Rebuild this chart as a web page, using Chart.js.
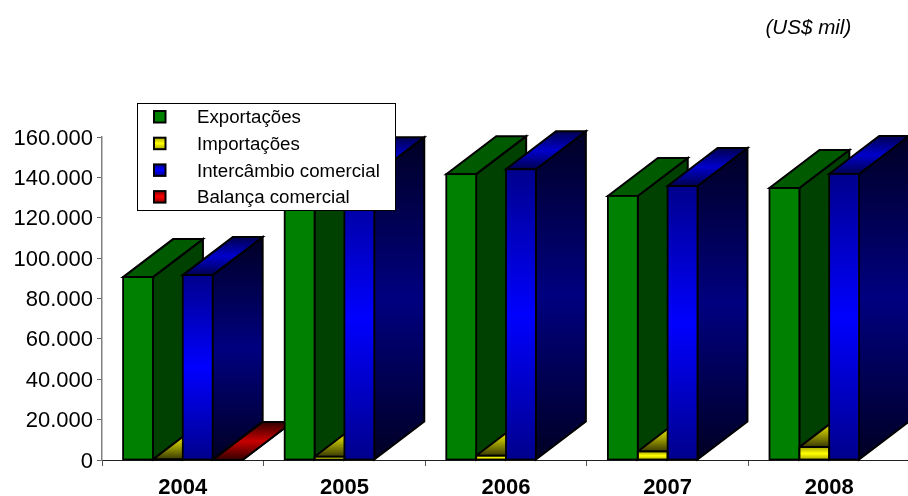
<!DOCTYPE html>
<html lang="pt">
<head>
<meta charset="utf-8">
<title>Balança comercial</title>
<script src="https://cdn.jsdelivr.net/npm/chart.js@4/dist/chart.umd.min.js"></script>
<style>
html,body{margin:0;padding:0;background:#fff;width:908px;height:496px;overflow:hidden}
#wrap{position:absolute;left:0;top:0;width:920px;height:496px}
</style>
</head>
<body>
<div id="wrap"><canvas id="c" width="920" height="496"></canvas></div>
<script>
const categories = ['2004','2005','2006','2007','2008'];
const exportacoes = [90600,139500,141600,130800,134700];
const importacoes = [300,1600,2100,4200,6400];
const intercambio = [91600,141100,144000,135700,141700];
const balanca = [0,null,null,null,null];
const seriesNames = ['Exportações','Importações','Intercâmbio comercial','Balança comercial'];
const unitNote = '(US$ mil)';
const yTicks = {min:0,max:160000,step:20000};

const FONT = '"Liberation Sans", Arial, sans-serif';
const DEPTH_X = 50, DEPTH_Y = 38;
const palette = [
  {front:['#008000','#008000'], side:['#004000','#004000'], top:['#005a00','#005a00']},
  {front:['#a8a800','#ffff00'], side:['#303000','#808000'], top:['#383800','#d0d000']},
  {front:['#00008c','#0000ff'], side:['#000024','#000080'], top:['#000050','#0000cc']},
  {front:['#800000','#ff0000'], side:['#300000','#880000'], top:['#300000','#c80000']}
];

function grad(ctx,y0,y1,pair){
  if(Math.abs(y1-y0)<0.01) return pair[1];
  const g = ctx.createLinearGradient(0,y0,0,y1);
  g.addColorStop(0,pair[0]); g.addColorStop(0.5,pair[1]); g.addColorStop(1,pair[0]);
  return g;
}
function frontColor(i){
  return function(c){
    const chart=c.chart;
    if(c.type!=='data'||!chart.chartArea||c.raw==null) return palette[i].front[1];
    const y=chart.scales.y;
    return grad(chart.ctx,y.getPixelForValue(c.raw),y.getPixelForValue(0),palette[i].front);
  };
}
function poly(ctx,pts,fill){
  ctx.beginPath();
  pts.forEach((p,k)=>k?ctx.lineTo(p[0],p[1]):ctx.moveTo(p[0],p[1]));
  ctx.closePath();
  ctx.fillStyle=fill; ctx.fill();
  ctx.lineWidth=2; ctx.strokeStyle='#000'; ctx.lineJoin='miter'; ctx.stroke();
}
const depthFaces = {
  id:'depthFaces',
  beforeDatasetsDraw(chart){
    const ctx=chart.ctx;
    ctx.save();
    categories.forEach((_,j)=>{
      chart.data.datasets.forEach((ds,i)=>{
        if(ds.data[j]==null) return;
        const el=chart.getDatasetMeta(i).data[j];
        const l=el.x-el.width/2, r=el.x+el.width/2, t=el.y, b=el.base;
        poly(ctx,[[r,t],[r+DEPTH_X,t-DEPTH_Y],[r+DEPTH_X,b-DEPTH_Y],[r,b]],
          grad(ctx,t-DEPTH_Y,b,palette[i].side));
        poly(ctx,[[l,t],[r,t],[r+DEPTH_X,t-DEPTH_Y],[l+DEPTH_X,t-DEPTH_Y]],
          grad(ctx,t-DEPTH_Y,t,palette[i].top));
      });
    });
    ctx.restore();
  },
  afterDatasetsDraw(chart){
    const ctx=chart.ctx;
    ctx.save();
    ctx.strokeStyle='#000'; ctx.lineWidth=1.8;
    chart.data.datasets.forEach((ds,i)=>{
      chart.getDatasetMeta(i).data.forEach((el,j)=>{
        if(ds.data[j]==null) return;
        ctx.strokeRect(el.x-el.width/2,el.y,el.width,el.base-el.y);
      });
    });
    ctx.restore();
  }
};
const overlay = {
  id:'overlay',
  afterDraw(chart){
    const ctx=chart.ctx;
    ctx.save();
    ctx.fillStyle='#000';
    ctx.font='italic 20.6px '+FONT;
    ctx.textAlign='left'; ctx.textBaseline='middle';
    ctx.fillText(unitNote,765.5,28);
    ctx.fillStyle='#fff'; ctx.strokeStyle='#000'; ctx.lineWidth=1;
    ctx.fillRect(137.5,103.5,258,107); ctx.strokeRect(137.5,103.5,258,107);
    chart.data.datasets.forEach((ds,i)=>{
      const cy=116.7+i*26.7;
      ctx.fillStyle=grad(ctx,cy-6,cy+6,palette[i].front);
      ctx.strokeStyle='#000'; ctx.lineWidth=2;
      ctx.fillRect(154,cy-5.7,11.5,11.5); ctx.strokeRect(154,cy-5.7,11.5,11.5);
      ctx.fillStyle='#000';
      ctx.font='18.7px '+FONT;
      ctx.fillText(ds.label,197,cy+1.5);
    });
    ctx.restore();
  }
};
const seriesValues=[exportacoes,importacoes,intercambio,balanca];
new Chart(document.getElementById('c'),{
  type:'bar',
  data:{
    labels:categories,
    datasets:seriesNames.map((n,i)=>({
      label:n,data:seriesValues[i],
      backgroundColor:frontColor(i),
      borderWidth:0,
      categoryPercentage:0.739,barPercentage:1
    }))
  },
  options:{
    responsive:false,animation:false,
    layout:{padding:{top:137,right:10,left:0,bottom:0}},
    plugins:{legend:{display:false},title:{display:false},tooltip:{enabled:false}},
    scales:{
      x:{
        grid:{drawOnChartArea:false,drawTicks:true,tickLength:6,color:'#555'},
        border:{color:'#222',width:1},
        ticks:{color:'#000',font:{family:FONT,size:22,weight:'bold'},padding:9,maxRotation:0},
        afterFit(s){s.height=36;}
      },
      y:{
        min:yTicks.min,max:yTicks.max,
        grid:{drawOnChartArea:false,drawTicks:true,tickLength:5,color:'#666'},
        border:{color:'#808080',width:1.5},
        ticks:{stepSize:yTicks.step,color:'#000',font:{family:FONT,size:22},padding:4,labelOffset:1.5,
          callback:v=>v===0?'0':String(v).replace(/\B(?=(\d{3})+$)/g,'.')},
        afterFit(s){s.width=102;}
      }
    }
  },
  plugins:[depthFaces,overlay]
});
</script>
</body>
</html>
